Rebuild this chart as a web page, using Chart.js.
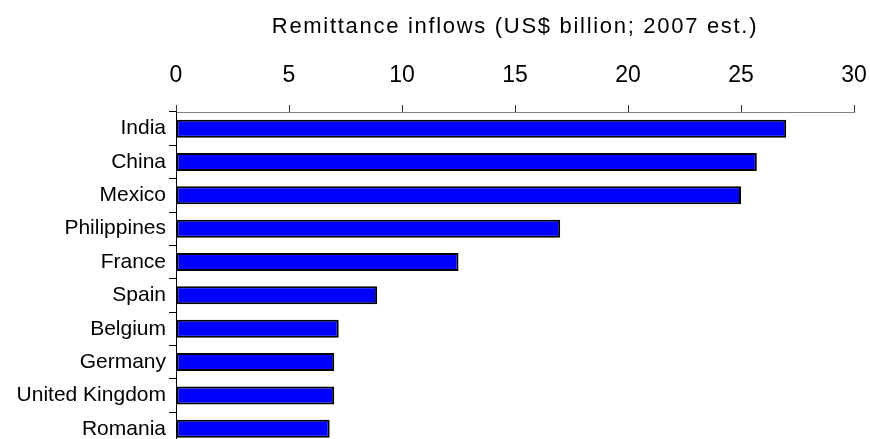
<!DOCTYPE html>
<html>
<head>
<meta charset="utf-8">
<script src="https://cdn.jsdelivr.net/npm/chart.js@4.4.1/dist/chart.umd.min.js"></script>
<style>
  html, body { margin: 0; padding: 0; background: #fff; overflow: hidden; }
  canvas { display: block; }
</style>
</head>
<body>
<canvas id="grafico" width="870" height="461"></canvas>
<script>
// dados
const paises = ['India', 'China', 'Mexico', 'Philippines', 'France', 'Spain', 'Belgium', 'Germany', 'United Kingdom', 'Romania'];
const remessas = [27.0, 25.7, 25.0, 17.0, 12.5, 8.9, 7.2, 7.0, 7.0, 6.8];
const ticksX = [0, 5, 10, 15, 20, 25, 30];
const tituloEixo = 'Remittance inflows (US$ billion; 2007 est.)';

const fonte = '"Liberation Sans", Arial, sans-serif';

// título do eixo com espaçamento entre letras (como no original)
const pluginTitulo = {
    id: 'tituloEixo',
    afterDraw(chart) {
        const { ctx, chartArea } = chart;
        ctx.save();
        ctx.font = '22px ' + fonte;
        ctx.letterSpacing = '1.7px';
        ctx.textAlign = 'center';
        ctx.textBaseline = 'alphabetic';
        ctx.fillStyle = '#000';
        ctx.fillText(tituloEixo, (chartArea.left + chartArea.right) / 2, 33);
        ctx.restore();
    }
};

const ctx = document.getElementById('grafico').getContext('2d');
new Chart(ctx, {
    type: 'bar',
    data: {
        labels: paises,
        datasets: [{
            data: remessas,
            backgroundColor: '#0000ff',
            borderColor: '#000000',
            borderWidth: 2,
            borderSkipped: false,
            barPercentage: 0.54,
            categoryPercentage: 1.0
        }]
    },
    options: {
        indexAxis: 'y',
        responsive: false,
        animation: false,
        devicePixelRatio: 1,
        layout: { padding: 0 },
        plugins: {
            legend: { display: false },
            tooltip: { enabled: false }
        },
        scales: {
            x: {
                position: 'top',
                min: 0,
                max: 30,
                afterBuildTicks: (axis) => { axis.ticks = ticksX.map(v => ({ value: v })); },
                afterFit: (axis) => {
                    axis.height = 112;
                    axis.paddingRight = 16;
                },
                grid: { drawOnChartArea: false, drawTicks: true, tickLength: 7, color: '#333' },
                border: { display: true, color: '#808080', width: 1 },
                ticks: { color: '#000', font: { family: fonte, size: 23 }, padding: 16 }
            },
            y: {
                afterFit: (axis) => { axis.width = 176; },
                grid: { drawOnChartArea: false, drawTicks: true, tickLength: 7, color: '#000', offset: true },
                border: { display: true, color: '#000', width: 1 },
                ticks: { color: '#000', font: { family: fonte, size: 21 }, padding: 3 }
            }
        }
    },
    plugins: [pluginTitulo]
});
</script>
</body>
</html>
